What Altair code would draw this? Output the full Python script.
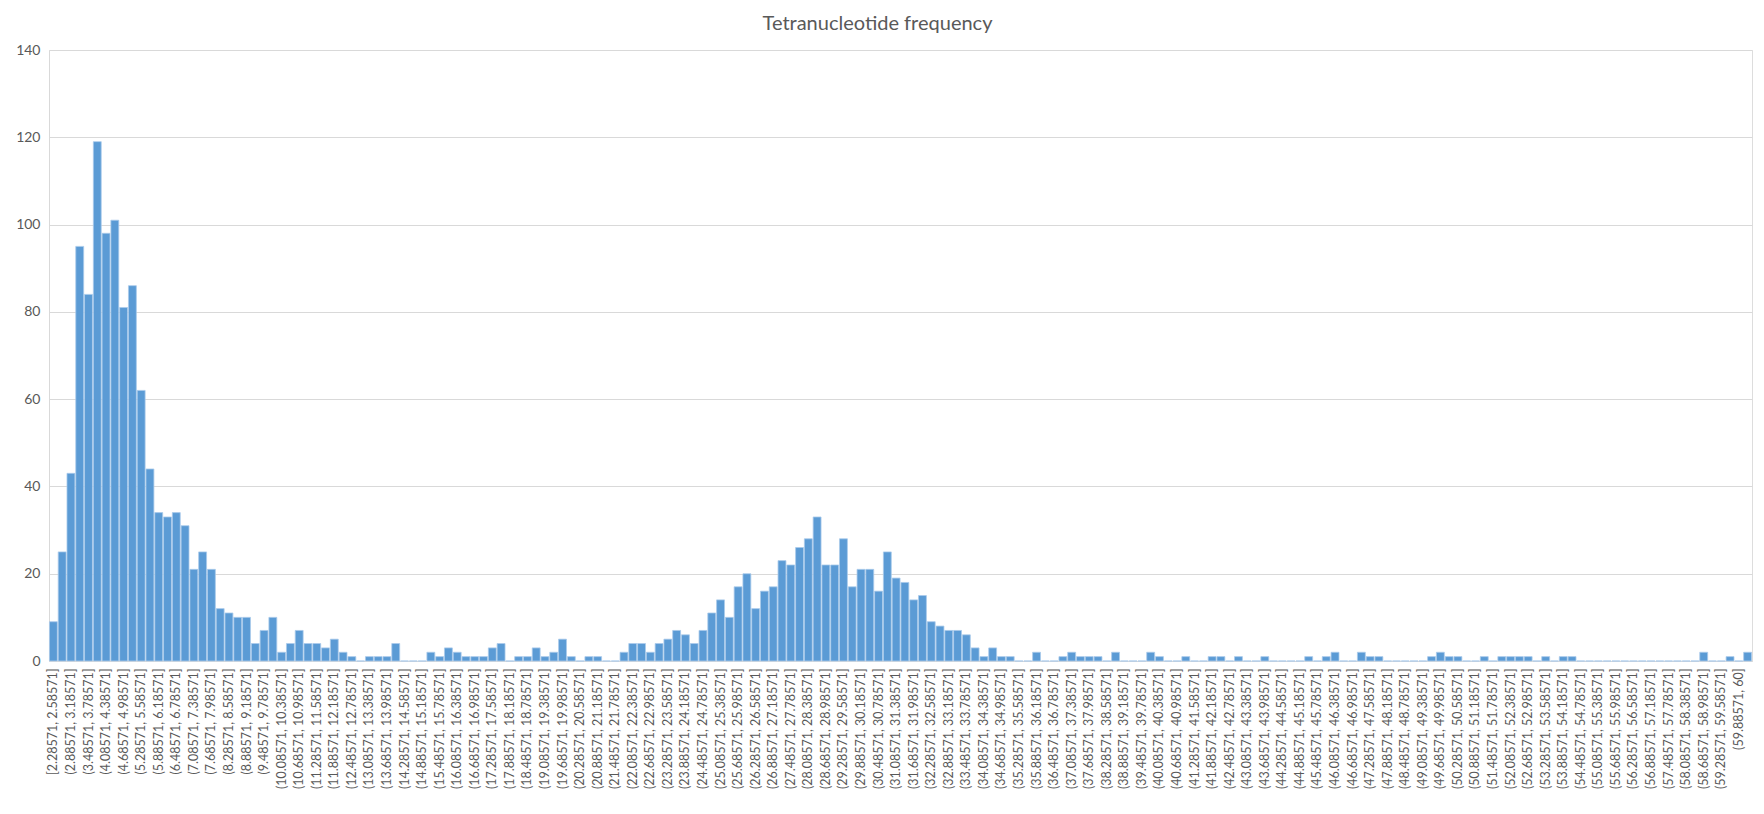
import altair as alt
import pandas as pd

# Histogram counts (194 bins incl. overflow "> 60")
counts = [9, 25, 43, 95, 84, 119, 98, 101, 81, 86, 62, 44, 34, 33, 34, 31, 21, 25, 21, 12,
          11, 10, 10, 4, 7, 10, 2, 4, 7, 4, 4, 3, 5, 2, 1, 0, 1, 1, 1, 4,
          0, 0, 0, 2, 1, 3, 2, 1, 1, 1, 3, 4, 0, 1, 1, 3, 1, 2, 5, 1,
          0, 1, 1, 0, 0, 2, 4, 4, 2, 4, 5, 7, 6, 4, 7, 11, 14, 10, 17, 20,
          12, 16, 17, 23, 22, 26, 28, 33, 22, 22, 28, 17, 21, 21, 16, 25, 19, 18, 14, 15,
          9, 8, 7, 7, 6, 3, 1, 3, 1, 1, 0, 0, 2, 0, 0, 1, 2, 1, 1, 1,
          0, 2, 0, 0, 0, 2, 1, 0, 0, 1, 0, 0, 1, 1, 0, 1, 0, 0, 1, 0,
          0, 0, 0, 1, 0, 1, 2, 0, 0, 2, 1, 1, 0, 0, 0, 0, 0, 1, 2, 1,
          1, 0, 0, 1, 0, 1, 1, 1, 1, 0, 1, 0, 1, 1, 0, 0, 0, 0, 0, 0,
          0, 0, 0, 0, 0, 0, 0, 0, 2, 0, 0, 1, 0, 2]

# Bin labels (Excel histogram: start 2.28571, width 0.3, capped at 60, overflow bin)
BIN_START = 2.28571
BIN_WIDTH = 0.3
N_REGULAR = 192
bins = ["[2.28571, 2.58571]"]
bins += ["(%.5f, %.5f]" % (BIN_START + BIN_WIDTH * k, BIN_START + BIN_WIDTH * (k + 1))
         for k in range(1, N_REGULAR)]
bins += ["(59.88571, 60]", "> 60"]

y_ticks = [0, 20, 40, 60, 80, 100, 120, 140]
title_text = "Tetranucleotide frequency"

FONT = "Lato"
TXT = "#595959"
GRID = "#D9D9D9"

df = pd.DataFrame({"bin": bins, "count": counts})

chart = alt.Chart(df).mark_bar(
    color="#5B9BD5", stroke="#A9CAEB", strokeWidth=0.8
).encode(
    x=alt.X("bin:N", sort=bins,
            scale=alt.Scale(paddingInner=0.1, paddingOuter=0.05),
            axis=alt.Axis(values=bins[::2], labelAngle=-90, labelAlign="right",
                          labelBaseline="middle", labelPadding=7, ticks=False,
                          domain=True, domainColor=GRID, labelFont=FONT,
                          labelFontSize=12.5, labelColor=TXT, title=None,
                          labelOverlap=False, labelLimit=0, grid=False)),
    y=alt.Y("count:Q", scale=alt.Scale(domain=[0, 140], nice=False),
            axis=alt.Axis(values=y_ticks, grid=True, gridColor=GRID, domain=True,
                          domainColor=GRID, ticks=False, labelPadding=9,
                          labelFont=FONT, labelFontSize=14, labelColor=TXT,
                          title=None)),
).properties(
    width=1703, height=611,
    title=alt.TitleParams(title_text, font=FONT, fontSize=20, fontWeight="normal",
                          color=TXT, anchor="middle", dx=-23, offset=9),
    padding={"left": 41, "top": 42, "right": 2, "bottom": 138},
    autosize=alt.AutoSizeParams(type="none"),
).configure_view(stroke=None).configure(background="white")

chart.save("out.html", embed_options={"renderer": "svg", "actions": False})
